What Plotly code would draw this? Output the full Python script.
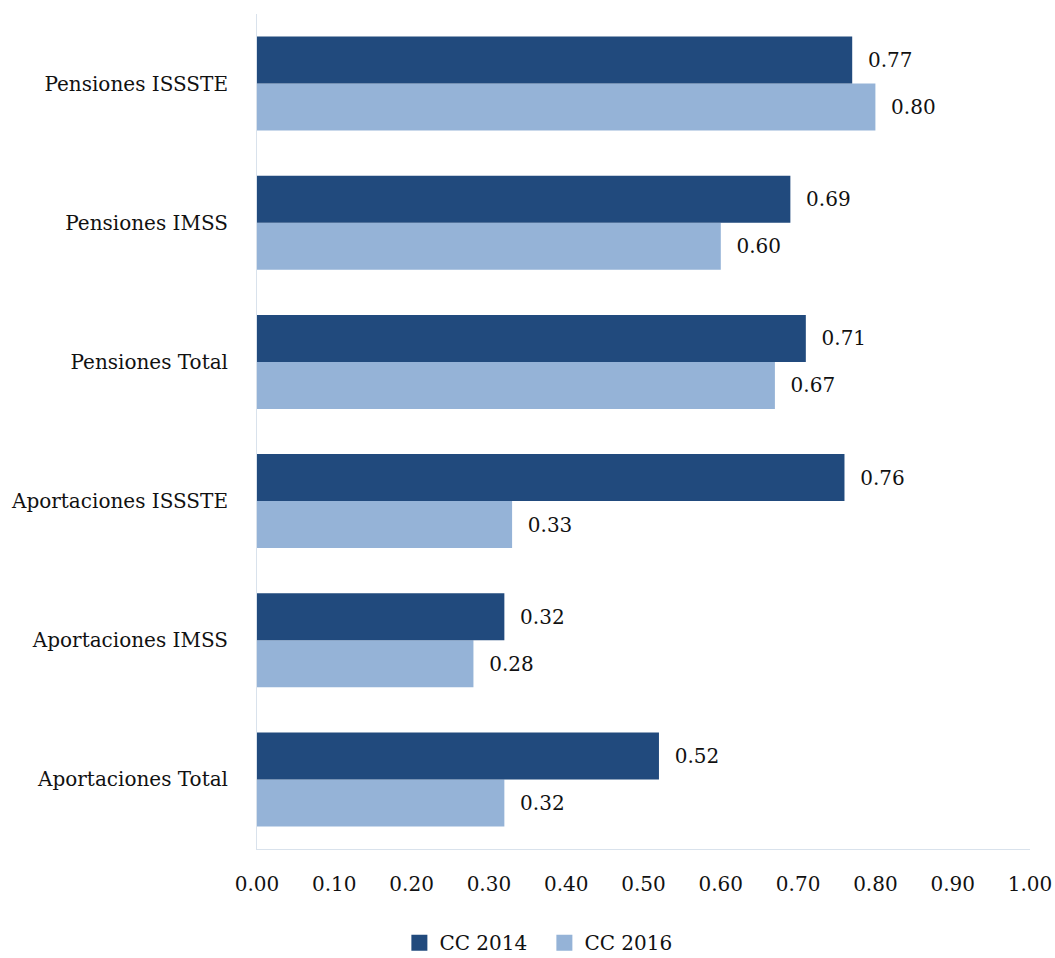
import plotly.graph_objects as go

categories = ["Aportaciones Total", "Aportaciones IMSS", "Aportaciones ISSSTE",
              "Pensiones Total", "Pensiones IMSS", "Pensiones ISSSTE"]
cc2014 = [0.52, 0.32, 0.76, 0.71, 0.69, 0.77]
cc2016 = [0.32, 0.28, 0.33, 0.67, 0.60, 0.80]
x_ticks = [0.0, 0.1, 0.2, 0.3, 0.4, 0.5, 0.6, 0.7, 0.8, 0.9, 1.0]

FONT = "DejaVu Serif"
FS = 20
DARK = "#214A7D"
LIGHT = "#95B3D7"
TXT = "#111111"

fig = go.Figure()
fig.add_trace(go.Bar(
    y=categories, x=cc2016, orientation="h", name="CC 2016",
    marker=dict(color=LIGHT, line=dict(width=0)),
    text=[f"  {v:.2f}" for v in cc2016], textposition="outside",
    textfont=dict(family=FONT, size=FS, color=TXT),
    cliponaxis=False, showlegend=False,
))
fig.add_trace(go.Bar(
    y=categories, x=cc2014, orientation="h", name="CC 2014",
    marker=dict(color=DARK, line=dict(width=0)),
    text=[f"  {v:.2f}" for v in cc2014], textposition="outside",
    textfont=dict(family=FONT, size=FS, color=TXT),
    cliponaxis=False, showlegend=False,
))
# legend entries with larger square swatches
for name, col in [("CC 2014", DARK), ("CC 2016", LIGHT)]:
    fig.add_trace(go.Scatter(
        x=[None], y=[None], mode="markers", name=name,
        marker=dict(symbol="square", size=19, color=col),
        showlegend=True,
    ))

fig.update_layout(
    width=1055, height=958,
    margin=dict(l=257, r=25, t=14, b=109, autoexpand=False),
    barmode="group", bargap=0.325, bargroupgap=0,
    plot_bgcolor="white", paper_bgcolor="white",
    font=dict(family=FONT, size=FS, color=TXT),
    showlegend=True,
    legend=dict(orientation="h", x=0.516, xanchor="center", xref="container",
                y=0.016, yanchor="middle", yref="container",
                font=dict(family=FONT, size=FS, color=TXT),
                traceorder="normal", itemwidth=30, entrywidth=100),
)
fig.update_xaxes(
    range=[0, 1.0], tickvals=x_ticks, ticktext=[f"{v:.2f}" for v in x_ticks],
    showgrid=False, zeroline=False, showline=True, linecolor="#D9E2EC", linewidth=1,
    ticks="", ticklabelstandoff=17, automargin=False,
    tickfont=dict(family=FONT, size=FS, color=TXT),
)
fig.update_yaxes(
    showgrid=False, zeroline=False, showline=True, linecolor="#D9E2EC", linewidth=1,
    ticks="", ticklabelstandoff=24, automargin=False,
    tickfont=dict(family=FONT, size=FS, color=TXT),
)

fig.write_html("out.html")
